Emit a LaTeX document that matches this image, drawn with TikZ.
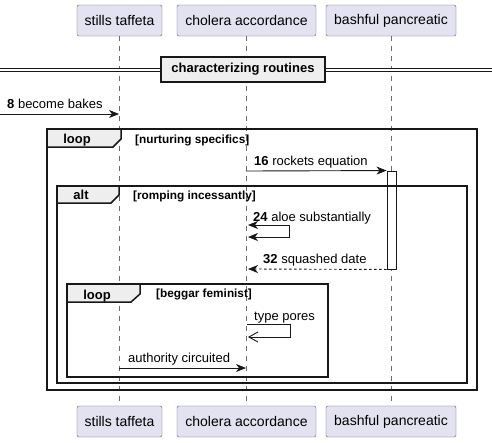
\documentclass[tikz,border=0pt]{standalone}
\usepackage{fontspec}
\setmainfont{Liberation Sans}
\usetikzlibrary{arrows.meta, positioning, calc}
\definecolor{fondacteur}{HTML}{E2E2F0}
\definecolor{bordacteur}{HTML}{5E5E6E}
\definecolor{onglet}{HTML}{EEEEEE}
\definecolor{trait}{HTML}{181818}
\definecolor{gris}{HTML}{6B6B6B}
\tikzset{
  acteur/.style={rectangle, rounded corners=2pt, draw=bordacteur, fill=fondacteur,
    font=\fontsize{14}{16}\selectfont, minimum height=31pt, inner sep=0pt},
  vie/.style={dash pattern=on 5pt off 5pt, color=gris, line width=0.6pt},
  fleche/.style={-{Stealth[length=10pt, width=8pt, inset=3pt]}, color=trait, line width=0.9pt},
  retour/.style={fleche, dash pattern=on 2.5pt off 2.5pt},
  flecheouverte/.style={-{Straight Barb[length=9pt, width=10pt]}, color=trait, line width=0.9pt},
  etiquette/.style={font=\fontsize{13}{15}\selectfont, anchor=base west, inner sep=0pt},
  garde/.style={font=\bfseries\fontsize{11.8}{13}\selectfont, anchor=base west, inner sep=0pt},
  cadre/.style={draw=trait, line width=1.5pt},
  onglettitre/.style={font=\bfseries\fontsize{13}{15}\selectfont, anchor=base, inner sep=0pt},
  activation/.style={rectangle, draw=trait, fill=white, line width=0.9pt, minimum width=9pt,
    minimum height=98pt, inner sep=0pt}
}

\begin{document}
\begin{tikzpicture}[x=1pt, y=-1pt]
    \useasboundingbox[fill=white] (0,0) rectangle (492,442);

    % participants, en haut et en bas
    \node[acteur, minimum width=85pt] (stills) at (119.5,20.5) {stills taffeta};
    \node[acteur, minimum width=139pt] (cholera) at (246.5,20.5) {cholera accordance};
    \node[acteur, minimum width=130pt] (bashful) at (391,20.5) {bashful pancreatic};
    \node[acteur, minimum width=85pt] (stillsbas) at (119.5,421.5) {stills taffeta};
    \node[acteur, minimum width=139pt] (cholerabas) at (246.5,421.5) {cholera accordance};
    \node[acteur, minimum width=130pt] (bashfulbas) at (391,421.5) {bashful pancreatic};

    \draw[vie] ([xshift=-0.5pt]stills.south) -- ([xshift=-0.5pt]stillsbas.north);
    \draw[vie] ([xshift=-0.5pt]cholera.south) -- ([xshift=-0.5pt]cholerabas.north);
    \draw[vie] (bashful.south) -- (bashfulbas.north);

    % separateur
    \coordinate (bordg) at (0,70);
    \coordinate (bordd) at (492,70);
    \draw[trait, double, double distance=1.8pt, line width=0.9pt] (bordg) -- (bordd);
    \node[rectangle, draw=trait, fill=onglet, line width=1.5pt, minimum width=164pt,
      minimum height=25pt, inner sep=0pt, font=\bfseries\fontsize{13}{15}\selectfont]
      (separateur) at (243,69.5) {characterizing routines};

    % message d'entree
    \coordinate (m8a) at (0,114);
    \coordinate (m8b) at (119,114);
    \draw[fleche] (m8a) -- (m8b);
    \node[etiquette] (l8) at (7,108.5) {\textbf{8} become bakes};

    % cadre loop exterieur
    \draw[cadre] (47,129) rectangle (477,390);
    \draw[cadre, fill=onglet] (47,129) -- (121,129) -- (121,139) -- (113,147) -- (47,147) -- cycle;
    \node[onglettitre] (t1) at (77,143) {loop};
    \node[garde] (g1) at (135,143) {[nurturing specifics]};

    % activation
    \node[activation] (activ) at (391.5,220) {};
    \coordinate (m16a) at (246,171);
    \draw[fleche] (m16a) -- (activ.north west);
    \node[etiquette] (l16) at (254,165) {\textbf{16} rockets equation};

    % cadre alt
    \draw[cadre] (57,186) rectangle (467,383);
    \draw[cadre, fill=onglet] (57,186) -- (119,186) -- (119,195) -- (111,203) -- (57,203) -- cycle;
    \node[onglettitre] (t2) at (81,199) {alt};
    \node[garde] (g2) at (133,199) {[romping incessantly]};

    \coordinate (m24a) at (248,225);
    \coordinate (m24b) at (289,225);
    \coordinate (m24c) at (289,237);
    \coordinate (m24d) at (248,237);
    \draw[{Stealth[length=10pt, width=8pt, inset=3pt]}-{Stealth[length=10pt, width=8pt, inset=3pt]},
      color=trait, line width=0.9pt] (m24a) -- (m24b) -- (m24c) -- (m24d);
    \node[etiquette] (l24) at (253,221) {\textbf{24} aloe substantially};

    \coordinate (m32b) at (248,269);
    \draw[retour] (activ.south west) -- (m32b);
    \node[etiquette] (l32) at (263,263) {\textbf{32} squashed date};

    % cadre loop interieur
    \draw[cadre] (67,284) rectangle (328,377);
    \draw[cadre, fill=onglet] (67,284) -- (140,284) -- (140,294) -- (131,302) -- (67,302) -- cycle;
    \node[onglettitre] (t3) at (97,299) {loop};
    \node[garde] (g3) at (156,297) {[beggar feminist]};

    \coordinate (mtpa) at (247,324);
    \coordinate (mtpb) at (290,324);
    \coordinate (mtpc) at (290,337);
    \coordinate (mtpd) at (248,337);
    \draw[flecheouverte] (mtpa) -- (mtpb) -- (mtpc) -- (mtpd);
    \node[etiquette] (ltp) at (254,320) {type pores};

    \coordinate (maca) at (119,368);
    \coordinate (macb) at (246,368);
    \draw[fleche] (maca) -- (macb);
    \node[etiquette] (lac) at (128,362.5) {authority circuited};
  \end{tikzpicture}
\end{document}
